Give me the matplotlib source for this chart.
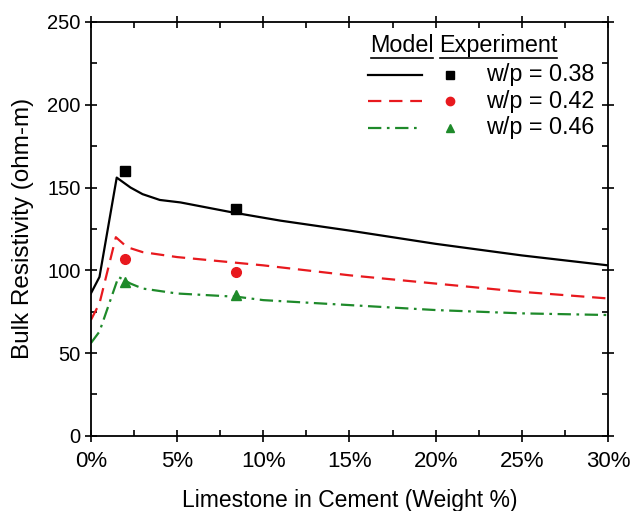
import matplotlib.pyplot as plt
from matplotlib.ticker import MultipleLocator, FuncFormatter

plt.rcParams['font.family'] = ['Liberation Sans', 'DejaVu Sans']

# model curves (limestone %, resistivity)
x38 = [0, 0.5, 1.5, 2.3, 3.0, 4.0, 5.2, 8.2, 11, 15, 20, 25, 30]
y38 = [86, 96, 156, 150, 146, 142.5, 141, 135, 130, 124, 116, 109, 103]
x42 = [0, 0.5, 1.45, 2.1, 3.0, 5.0, 8.0, 10, 15, 20, 25, 30]
y42 = [70, 80, 120, 114, 111, 108, 105, 103, 97, 92, 87, 83]
x46 = [0, 0.5, 1.6, 2.3, 3.0, 5.0, 8.5, 10, 15, 20, 25, 30]
y46 = [56, 63, 96, 92, 89, 86, 84, 82, 79, 76, 74, 73]

# experiment points
xexp = [2.0, 8.4]
e38 = [160, 137]
e42 = [107, 99]
e46 = [93, 85]

labels = ['w/p = 0.38', 'w/p = 0.42', 'w/p = 0.46']
colors = ['black', '#e8191e', '#1e8a2a']
styles = ['-', (0, (6, 3.5)), (0, (6, 2.5, 1.2, 2.5))]
markers = ['s', 'o', '^']

fig = plt.figure(figsize=(6.31, 5.11), dpi=100)
ax = fig.add_axes([0.144, 0.147, 0.8196, 0.81])

curves = [(x38, y38), (x42, y42), (x46, y46)]
exps = [e38, e42, e46]
for (xs, ys), ex, c, ls, m in zip(curves, exps, colors, styles, markers):
    ax.plot(xs, ys, color=c, linestyle=ls, lw=1.6)
    ax.plot(xexp, ex, linestyle='none', marker=m, color=c, markersize=7)

ax.set_xlim(0, 30)
ax.set_ylim(0, 250)
ax.xaxis.set_major_locator(MultipleLocator(5))
ax.xaxis.set_minor_locator(MultipleLocator(2.5))
ax.yaxis.set_major_locator(MultipleLocator(50))
ax.yaxis.set_minor_locator(MultipleLocator(25))
ax.xaxis.set_major_formatter(FuncFormatter(lambda v, p: '%d%%' % v))
ax.tick_params(which='major', direction='inout', length=8, width=1.2,
               top=True, right=True, labeltop=False, labelright=False)
ax.tick_params(which='minor', direction='in', length=4, width=1.2, top=True, right=True)
ax.tick_params(axis='x', which='major', labelsize=16, pad=7)
ax.tick_params(axis='y', which='major', labelsize=14.5)
for s in ax.spines.values():
    s.set_linewidth(1.3)

ax.set_xlabel('Limestone in Cement (Weight %)', fontsize=16.5, labelpad=12)
ax.set_ylabel('Bulk Resistivity (ohm-m)', fontsize=17.5)
ax.yaxis.set_label_coords(-0.11, 0.5)

# custom legend: model line | experiment marker | label
tr = ax.transAxes
fs = 16.8
ax.text(0.540, 0.942, 'Model', transform=tr, fontsize=fs, va='center', ha='left')
ax.text(0.673, 0.942, 'Experiment', transform=tr, fontsize=fs, va='center', ha='left')
ax.plot([0.542, 0.661], [0.912, 0.912], color='black', lw=1.2, transform=tr)
ax.plot([0.675, 0.901], [0.912, 0.912], color='black', lw=1.2, transform=tr)
for i, (lab, c, ls, m) in enumerate(zip(labels, colors, styles, markers)):
    yy = 0.872 - i * 0.064
    ax.plot([0.536, 0.640], [yy, yy], color=c, linestyle=ls, lw=1.6, transform=tr)
    ax.plot([0.694], [yy], marker=m, color=c, markersize=6, transform=tr)
    ax.text(0.764, yy, lab, transform=tr, fontsize=fs, va='center', ha='left')

fig.savefig('out.png', dpi=100)
